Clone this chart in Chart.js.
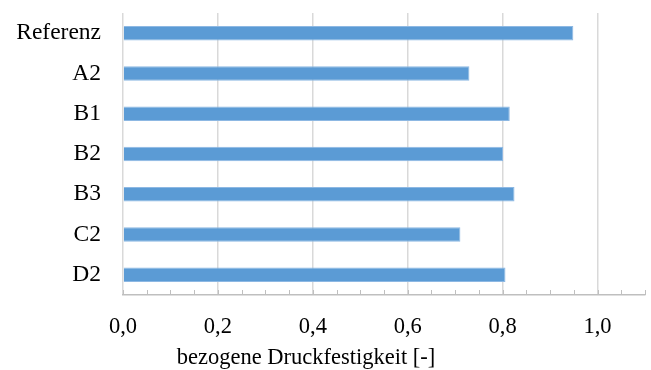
<!DOCTYPE html>
<html lang="de">
<head>
  <meta charset="UTF-8" />
  <title>bezogene Druckfestigkeit</title>
  <script src="https://cdn.jsdelivr.net/npm/chart.js"></script>
  <style>
    * { margin: 0; padding: 0; box-sizing: border-box; }
    body { background: #ffffff; width: 651px; height: 370px; overflow: hidden; }
    canvas { display: block; }
  </style>
</head>
<body>
  <canvas id="chart" width="651" height="370"></canvas>

  <script>
    // Daten
    const kategorien = ['Referenz', 'A2', 'B1', 'B2', 'B3', 'C2', 'D2'];
    const druckfestigkeit = [0.949, 0.730, 0.815, 0.801, 0.825, 0.711, 0.806];
    const achsenTitel = 'bezogene Druckfestigkeit [-]';
    const xMax = 1.1;
    const hauptSchritt = 0.2;
    const nebenSchritt = 0.05;

    const schrift = "'Liberation Serif', 'Times New Roman', serif";

    const isHaupt = v => Math.abs(v / hauptSchritt - Math.round(v / hauptSchritt)) < 1e-6;

    // kleine Striche oberhalb der x-Achse + Achsentitel
    const extras = {
      id: 'extras',
      afterDraw(chart) {
        const { ctx, chartArea, scales } = chart;
        const x = scales.x;
        ctx.save();
        ctx.strokeStyle = '#bfbfbf';
        ctx.lineWidth = 1;
        for (let v = 0; v <= xMax + 1e-9; v += nebenSchritt) {
          const px = Math.round(x.getPixelForValue(v)) + 0.5;
          ctx.beginPath();
          ctx.moveTo(px, chartArea.bottom);
          ctx.lineTo(px, chartArea.bottom - 5);
          ctx.stroke();
        }
        ctx.fillStyle = '#000000';
        ctx.font = '22.5px ' + schrift;
        ctx.textAlign = 'center';
        ctx.textBaseline = 'alphabetic';
        ctx.fillText(achsenTitel, 306, 364);
        ctx.restore();
      }
    };

    const ctx = document.getElementById('chart').getContext('2d');
    new Chart(ctx, {
      type: 'bar',
      data: {
        labels: kategorien,
        datasets: [{
          data: druckfestigkeit,
          backgroundColor: '#5b9bd5',
          borderColor: '#8db8e3',
          borderWidth: 1,
          barPercentage: 0.36,
          categoryPercentage: 1.0
        }]
      },
      options: {
        indexAxis: 'y',
        responsive: false,
        animation: false,
        devicePixelRatio: 1,
        layout: { padding: { top: 13, right: 6, left: 0, bottom: 0 } },
        plugins: { legend: { display: false }, tooltip: { enabled: false } },
        scales: {
          x: {
            min: 0,
            max: xMax,
            afterBuildTicks(scale) {
              const t = [];
              for (let i = 0; i * nebenSchritt <= xMax + 1e-9; i++) {
                t.push({ value: +(i * nebenSchritt).toFixed(2) });
              }
              scale.ticks = t;
            },
            afterFit(scale) {
              scale.height = 75;
              scale.paddingLeft = 0;
              scale.paddingRight = 0;
            },
            grid: {
              drawTicks: false,
              color: c => (c.tick && isHaupt(c.tick.value) ? '#d9d9d9' : 'rgba(0,0,0,0)'),
              lineWidth: 1.5
            },
            border: { display: true, color: '#bfbfbf', width: 1.5 },
            ticks: {
              autoSkip: false,
              maxRotation: 0,
              padding: 19,
              color: '#000000',
              font: { family: schrift, size: 22.5 },
              callback: v => (isHaupt(v) ? v.toFixed(1).replace('.', ',') : '')
            }
          },
          y: {
            afterFit(scale) {
              scale.width = 123;
              scale.paddingTop = 0;
              scale.paddingBottom = 0;
            },
            grid: { display: false },
            border: { display: false },
            ticks: {
              padding: 14,
              color: '#000000',
              font: { family: schrift, size: 23.5 }
            }
          }
        }
      },
      plugins: [extras]
    });
  </script>
</body>
</html>
